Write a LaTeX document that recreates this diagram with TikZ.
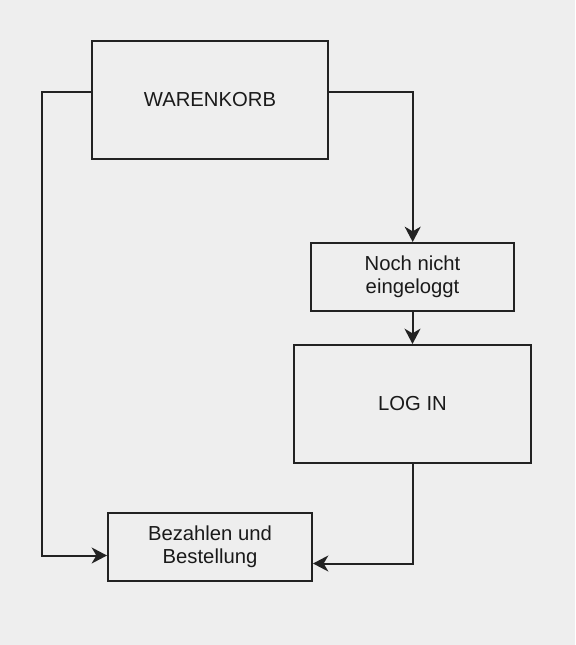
\documentclass[tikz,border=0pt]{standalone}
\usepackage{fontspec}
\setmainfont{Liberation Sans}
\usetikzlibrary{arrows.meta}
\definecolor{bgc}{RGB}{238,238,238}
\definecolor{linec}{RGB}{34,34,34}
\definecolor{textc}{RGB}{26,26,26}
\begin{document}
\begin{tikzpicture}[x=0.75pt,y=-0.75pt,
  box/.style={draw=linec, line width=1.5pt, inner sep=0pt, align=center,
    text=textc, font=\fontsize{15.2pt}{17.5pt}\selectfont},
  conn/.style={draw=linec, line width=1.5pt, line join=miter,
    -{Stealth[length=11.5pt,width=12pt,inset=3.5pt]}}]
\fill[bgc] (0,0) rectangle (575,645);
\useasboundingbox (0,0) rectangle (575,645);
\node[box, minimum width=177pt, minimum height=88.5pt] (wk) at (210,100) {WARENKORB};
\node[box, minimum width=152.25pt, minimum height=51pt] (noch) at (412.5,277) {Noch nicht\\eingeloggt};
\node[box, minimum width=177.75pt, minimum height=88.5pt] (login) at (412.5,404) {LOG IN};
\node[box, minimum width=153pt, minimum height=51pt] (bez) at (210,547) {Bezahlen und\\Bestellung};
\coordinate (l1) at (41.5,91.7);
\coordinate (l2) at (41.5,555.5);
\coordinate (r1) at (412.7,91.7);
\coordinate (r2) at (412.7,563.5);
\draw[conn] (wk.west |- l1) -- (l1) -- (l2) -- (bez.west |- l2);
\draw[conn] (wk.east |- r1) -- (r1) -- (r1 |- noch.north);
\draw[conn] (noch.south) -- (login.north);
\draw[conn] (r2 |- login.south) -- (r2) -- (bez.east |- r2);
\end{tikzpicture}
\end{document}
